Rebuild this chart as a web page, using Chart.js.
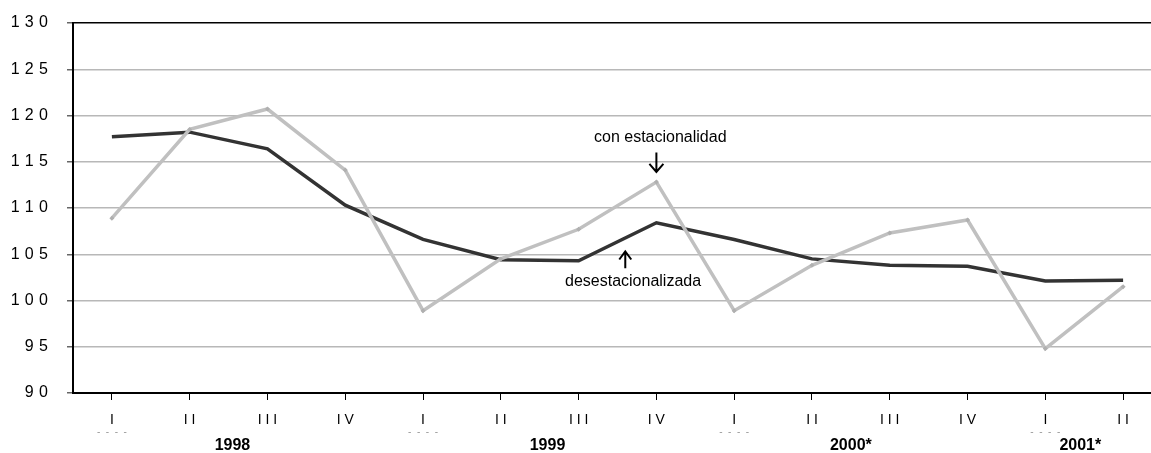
<!DOCTYPE html>
<html>
<head>
<meta charset="utf-8">
<script src="https://cdn.jsdelivr.net/npm/chart.js@4"></script>
<style>
  html, body { margin: 0; padding: 0; background: #fff; overflow: hidden; }
  #wrap { width: 1166px; height: 453px; }
</style>
</head>
<body>
<div id="wrap"><canvas id="chart" width="1166" height="453"></canvas></div>
<script>
// Data
const quarters = ["I", "I I", "I I I", "I V", "I", "I I", "I I I", "I V", "I", "I I", "I I I", "I V", "I", "I I"];
const years = ["1998", "1999", "2000*", "2001*"];
const conEstacionalidad = [108.9, 118.5, 120.7, 114.1, 98.9, 104.5, 107.7, 112.8, 98.9, 103.8, 107.3, 108.7, 94.8, 101.5];
const desestacionalizada = [117.7, 118.2, 116.4, 110.3, 106.6, 104.4, 104.3, 108.4, 106.6, 104.5, 103.8, 103.7, 102.1, 102.2];

const FONT = "'Liberation Sans', Arial, sans-serif";

// year labels under the quarters (fractional category index)
const yearPos = [1.55, 5.6, 9.5, 12.45];

const extras = {
  id: "extras",
  afterDraw(chart) {
    const ctx = chart.ctx;
    const x = chart.scales.x;
    const y = chart.scales.y;
    ctx.save();

    // years
    ctx.fillStyle = "#000";
    ctx.font = "bold 16px " + FONT;
    ctx.textAlign = "center";
    ctx.textBaseline = "middle";
    years.forEach((t, i) => ctx.fillText(t, x.getPixelForValue(yearPos[i]), 446));

    // clipped remnants under each first quarter
    ctx.fillStyle = "#999";
    ctx.font = "10px " + FONT;
    [0, 4, 8, 12].forEach(i => ctx.fillText("-  -  -  -", x.getPixelForValue(i), 432));

    // annotations
    ctx.fillStyle = "#000";
    ctx.font = "16px " + FONT;
    ctx.fillText("con estacionalidad", x.getPixelForValue(7.05), y.getPixelForValue(117.6));
    ctx.fillText("desestacionalizada", x.getPixelForValue(6.7), y.getPixelForValue(102.0));

    ctx.strokeStyle = "#000";
    ctx.lineWidth = 2;
    // down arrow
    let ax = x.getPixelForValue(7);
    let y1 = y.getPixelForValue(116.0), y2 = y.getPixelForValue(113.9);
    ctx.beginPath();
    ctx.moveTo(ax, y1); ctx.lineTo(ax, y2);
    ctx.moveTo(ax - 7, y2 - 8); ctx.lineTo(ax, y2); ctx.lineTo(ax + 7, y2 - 8);
    ctx.stroke();
    // up arrow
    ax = x.getPixelForValue(6.6);
    y1 = y.getPixelForValue(103.5); y2 = y.getPixelForValue(105.3);
    ctx.beginPath();
    ctx.moveTo(ax, y1); ctx.lineTo(ax, y2);
    ctx.moveTo(ax - 6, y2 + 8); ctx.lineTo(ax, y2); ctx.lineTo(ax + 6, y2 + 8);
    ctx.stroke();

    ctx.restore();
  }
};

new Chart(document.getElementById("chart"), {
  type: "line",
  data: {
    labels: quarters,
    datasets: [
      {
        label: "con estacionalidad",
        data: conEstacionalidad,
        borderColor: "#c0c0c0",
        backgroundColor: "#b0b0b0",
        borderWidth: 3.5,
        pointRadius: 2.5,
        pointStyle: "rectRot",
        pointBorderWidth: 0,
        tension: 0
      },
      {
        label: "desestacionalizada",
        data: desestacionalizada,
        borderColor: "#333333",
        backgroundColor: "#333333",
        borderWidth: 3.5,
        pointRadius: 0,
        tension: 0
      }
    ]
  },
  options: {
    responsive: false,
    animation: false,
    devicePixelRatio: 1,
    layout: { padding: { top: 23, left: 0, right: 0, bottom: 0 } },
    plugins: { legend: { display: false }, tooltip: { enabled: false } },
    scales: {
      x: {
        offset: true,
        grid: { drawOnChartArea: false, drawTicks: true, tickLength: 7, tickColor: "#000", lineWidth: 1 },
        border: { color: "#000", width: 2 },
        ticks: {
          color: "#000",
          font: { family: FONT, size: 14 },
          padding: 12,
          maxRotation: 0,
          autoSkip: false
        },
        afterFit(s) { s.height = 60; s.paddingLeft = 0; s.paddingRight = 0; }
      },
      y: {
        min: 90,
        max: 130,
        grid: {
          color: c => c.tick && c.tick.value === 130 ? "#000" : "#b8b8b8",
          lineWidth: 1.5,
          tickLength: 6,
          tickColor: "#666"
        },
        border: { color: "#000", width: 2 },
        ticks: {
          stepSize: 5,
          color: "#000",
          font: { family: FONT, size: 16 },
          padding: 19,
          callback: v => String(v).split("").join("\u2004")
        },
        afterFit(s) { s.width = 73; s.paddingTop = 0; s.paddingBottom = 0; }
      }
    }
  },
  plugins: [extras]
});
</script>
</body>
</html>
